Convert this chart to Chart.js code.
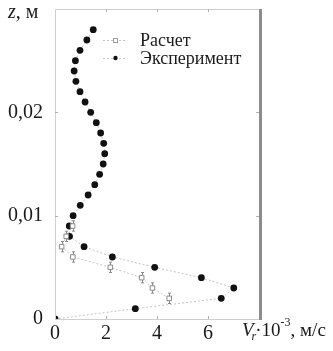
<!DOCTYPE html>
<html><head><meta charset="utf-8">
<script src="https://cdn.jsdelivr.net/npm/chart.js@4/dist/chart.umd.min.js"></script>
<style>html,body{margin:0;padding:0;background:#fff}#wrap{width:333px;height:351px}</style>
</head><body><div id="wrap"><canvas id="c" width="333" height="351"></canvas></div>
<script>
// z values (м)
const expZ = [0,0.001,0.002,0.003,0.004,0.005,0.006,0.007,0.008,0.009,0.010,0.011,0.012,0.013,0.014,0.015,0.016,0.017,0.018,0.019,0.020,0.021,0.022,0.023,0.024,0.025,0.026,0.027,0.028];
// Vr·10^-3 (м/с)
const expV = [0,3.15,6.52,7.01,5.74,3.91,2.25,1.14,0.57,0.56,0.71,0.99,1.30,1.56,1.75,1.89,1.95,1.91,1.79,1.62,1.40,1.18,0.98,0.82,0.75,0.80,0.98,1.25,1.50];
const calcZ = [0.002,0.003,0.004,0.005,0.006,0.007,0.008,0.009];
const calcV = [4.48,3.82,3.40,2.17,0.70,0.26,0.44,0.69];
const calcErr = [0.0005,0.0005,0.0005,0.0005,0.0005,0.0005,0.0005,0.0005];
const xTicks = [0,2,4,6];
const yTicks = [0,0.01,0.02];
const seriesNames = ['Расчет','Эксперимент'];

const SERIF = '"Liberation Serif","DejaVu Serif",serif';

const decor = {
  id:'decor',
  beforeDatasetsDraw(chart){
    const {ctx, scales:{x,y}} = chart;
    ctx.save();
    ctx.strokeStyle = '#8a8a8a'; ctx.lineWidth = 1;
    calcZ.forEach((z,i)=>{
      const px = Math.round(x.getPixelForValue(calcV[i]))+0.5;
      const t = y.getPixelForValue(z+calcErr[i]);
      const b = y.getPixelForValue(z-calcErr[i]);
      ctx.beginPath();
      ctx.moveTo(px,t); ctx.lineTo(px,b);
      ctx.moveTo(px-1.5,t); ctx.lineTo(px+1.5,t);
      ctx.moveTo(px-1.5,b); ctx.lineTo(px+1.5,b);
      ctx.stroke();
    });
    ctx.restore();
  },
  afterDraw(chart){
    const {ctx, chartArea:a, scales:{x,y}} = chart;
    ctx.save();
    // frame
    ctx.strokeStyle = '#cfcfcf'; ctx.lineWidth = 1;
    ctx.beginPath();
    ctx.moveTo(a.left+0.5, a.bottom); ctx.lineTo(a.left+0.5, a.top+0.5); ctx.lineTo(a.right, a.top+0.5);
    ctx.moveTo(a.left, a.bottom+0.5); ctx.lineTo(a.right, a.bottom+0.5);
    ctx.stroke();
    ctx.fillStyle = '#8c8c8c';
    ctx.fillRect(a.right, a.top, 3, a.bottom - a.top + 1);
    // inward ticks
    ctx.strokeStyle = '#b0b0b0';
    ctx.beginPath();
    xTicks.forEach(v=>{ if(v===0) return; const px=Math.round(x.getPixelForValue(v))+0.5;
      ctx.moveTo(px,a.top); ctx.lineTo(px,a.top+3); ctx.moveTo(px,a.bottom); ctx.lineTo(px,a.bottom-3);});
    yTicks.forEach(v=>{ if(v===0) return; const py=Math.round(y.getPixelForValue(v))+0.5;
      ctx.moveTo(a.left,py); ctx.lineTo(a.left+3,py); ctx.moveTo(a.right,py); ctx.lineTo(a.right-3,py);});
    ctx.stroke();
    // legend
    const ly = [40,58];
    ly.forEach((yy,i)=>{
      ctx.strokeStyle = '#c4c4c4'; ctx.setLineDash([2,2]); ctx.lineWidth = 1;
      ctx.beginPath(); ctx.moveTo(103,yy+0.5); ctx.lineTo(127,yy+0.5); ctx.stroke();
      ctx.setLineDash([]);
      if(i===0){ ctx.fillStyle='#fff'; ctx.fillRect(113,yy-2,5,5); ctx.strokeStyle='#9a9a9a'; ctx.strokeRect(113.5,yy-1.5,4,4); }
      else { ctx.fillStyle='#111'; ctx.beginPath(); ctx.arc(115.5,yy,2.2,0,Math.PI*2); ctx.fill(); }
      ctx.fillStyle = '#1a1a1a'; ctx.font = '18px '+SERIF; ctx.textBaseline='middle'; ctx.textAlign='left';
      ctx.fillText(seriesNames[i], 140, yy+1);
    });
    // axis titles
    ctx.fillStyle = '#1a1a1a'; ctx.textBaseline='alphabetic'; ctx.textAlign='left';
    ctx.font = 'italic 20px '+SERIF; ctx.fillText('z', 8, 18);
    let w = ctx.measureText('z').width;
    ctx.font = '20px '+SERIF; ctx.fillText(', м', 8+w, 18);
    let cx = 242;
    ctx.font = 'italic 19px '+SERIF; ctx.fillText('V', cx, 336); cx += ctx.measureText('V').width - 2;
    ctx.font = 'italic 12px '+SERIF; ctx.fillText('r', cx, 340); cx += ctx.measureText('r').width - 1;
    ctx.font = '19px '+SERIF; ctx.fillText('·10', cx, 336); cx += ctx.measureText('·10').width;
    ctx.font = '12px '+SERIF; ctx.fillText('-3', cx, 326); cx += ctx.measureText('-3').width;
    ctx.font = '19px '+SERIF; ctx.fillText(', м/с', cx, 336);
    ctx.restore();
  }
};

new Chart(document.getElementById('c'), {
  type:'scatter',
  data:{ datasets:[
    { label:seriesNames[0], data:calcZ.map((z,i)=>({x:calcV[i], y:z})), showLine:true,
      borderColor:'#c4c4c4', borderWidth:1, borderDash:[2,2],
      pointStyle:'rect', pointRadius:3.2, pointBackgroundColor:'#fff', pointBorderColor:'#8a8a8a', pointBorderWidth:1 },
    { label:seriesNames[1], data:expZ.map((z,i)=>({x:expV[i], y:z})), showLine:true,
      borderColor:'#c4c4c4', borderWidth:1, borderDash:[2,2],
      pointStyle:'circle', pointRadius:3.4, pointBackgroundColor:'#111', pointBorderColor:'#111', pointBorderWidth:0 }
  ]},
  options:{
    responsive:false, animation:false, devicePixelRatio:1,
    layout:{ padding:{ left:0, right:74, top:9, bottom:0 } },
    plugins:{ legend:{display:false}, tooltip:{enabled:false} },
    scales:{
      x:{ type:'linear', min:0, max:8,
        afterBuildTicks(s){ s.ticks = xTicks.map(v=>({value:v})); },
        afterFit(s){ s.height = 32; s.paddingLeft = 0; s.paddingRight = 0; },
        grid:{ display:false, drawTicks:false }, border:{ display:false },
        ticks:{ padding:3, color:'#1a1a1a', font:{ family:SERIF, size:20 }, maxRotation:0, autoSkip:false,
          callback:(v)=>String(v) } },
      y:{ type:'linear', min:0, max:0.03,
        afterBuildTicks(s){ s.ticks = yTicks.map(v=>({value:v})); },
        afterFit(s){ s.width = 55; s.paddingTop = 0; s.paddingBottom = 0; },
        grid:{ display:false, drawTicks:false }, border:{ display:false },
        ticks:{ padding:12, color:'#1a1a1a', font:{ family:SERIF, size:20 }, autoSkip:false,
          callback:(v)=> v===0 ? '0' : v.toFixed(2).replace('.',',') } }
    }
  },
  plugins:[decor]
});
</script></body></html>
